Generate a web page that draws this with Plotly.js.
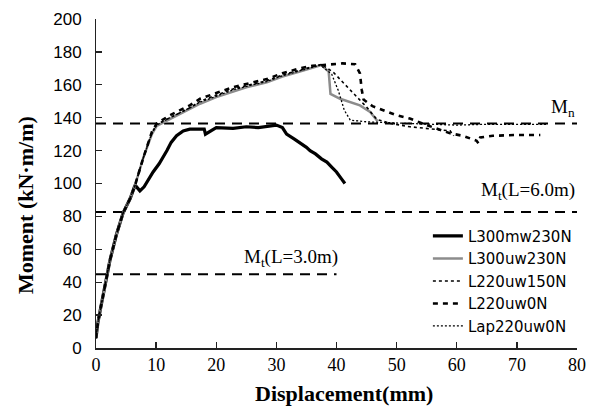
<!DOCTYPE html>
<html>
<head>
<meta charset="utf-8">
<script src="https://cdn.plot.ly/plotly-3.0.1.min.js"></script>
<style>html,body{margin:0;padding:0;background:#fff;}#chart{width:601px;height:410px;}</style>
</head>
<body>
<div id="chart"></div>
<script>
// ---- data ----
const seriesNames = ["L300mw230N", "L300uw230N", "L220uw150N", "L220uw0N", "Lap220uw0N"];

const x_L300mw230N = [0, 0.3, 0.7, 1.5, 2.3, 3.4, 4.5, 5.7, 6.5, 7.3, 8.0, 9.5, 10.5, 11.8, 12.5, 13.4, 14.5, 15.6, 17.3, 18.0, 18.2, 20, 22.8, 25, 27, 30, 31, 31.7, 33, 33.9, 35, 35.6, 36.5, 37.5, 38.4, 39.2, 40, 40.8, 41.4];
const y_L300mw230N = [6, 15, 23, 39, 53, 69, 82, 91, 99, 95.5, 98, 107, 112, 120, 125, 129, 132, 133, 133.2, 133, 130, 134, 133.5, 134.5, 134, 135.5, 134, 130, 127, 125, 122, 120, 118, 115, 113, 110, 107, 103, 100];

const x_L300uw230N = [0, 0.3, 0.7, 1.5, 2.3, 3.4, 4.5, 5.7, 6.5, 7.9, 9.3, 10.1, 12.3, 15.6, 17.3, 20, 22.8, 25, 28.4, 31, 33.9, 36, 37.5, 38.7, 39.0, 40.6, 43.9, 45.6, 46.4, 46.8];
const y_L300uw230N = [6, 15, 23, 39, 53, 69, 82, 91, 99, 116, 130, 135, 139, 145, 148.5, 152.5, 156, 158.5, 161.5, 165, 168, 170.5, 172, 168, 154.5, 151.5, 147.5, 143.5, 139.5, 138];

const x_L220uw150N = [0, 0.3, 0.7, 1.5, 2.3, 3.4, 4.5, 5.7, 6.5, 7.9, 9.3, 10.1, 12.3, 15.6, 17.3, 20, 22.8, 25, 28.4, 31, 33.9, 36, 37.5, 39.5, 42.3, 45, 46.7, 49, 52.2, 55, 58.9, 59.5];
const y_L220uw150N = [6, 15, 23, 39, 53, 69, 82, 91, 99, 116, 131, 136, 140, 146, 150, 153.5, 157.5, 159.5, 162.5, 166, 169, 171, 172.5, 167.5, 156.5, 146.5, 139, 136.5, 134.5, 133.5, 132, 129];

const x_L220uw0N = [0, 0.3, 0.7, 1.5, 2.3, 3.4, 4.5, 5.7, 6.5, 7.9, 9.3, 10.1, 12.3, 15.6, 17.3, 20, 22.8, 25, 28.4, 31, 33.9, 36, 37.5, 39, 41, 43.1, 43.9, 44.2, 44.5, 46, 47.8, 50, 52.2, 55, 58.9, 61, 63.3, 63.6, 63.9, 66, 70, 73.9];
const y_L220uw0N = [6, 15, 23, 39, 53, 69, 82, 91, 99, 116, 131.5, 136.5, 141.5, 147.5, 151.5, 155, 158.5, 160.5, 163.5, 167, 170, 171.5, 172, 172.5, 173, 172.5, 167, 157, 151, 147, 144.5, 141.5, 139.5, 135.5, 130.5, 129, 126, 124.5, 128, 129, 129.5, 129.5];

const x_Lap220uw0N = [0, 0.3, 0.7, 1.5, 2.3, 3.4, 4.5, 5.7, 6.5, 7.9, 9.3, 10.1, 12.3, 15.6, 17.3, 20, 22.8, 25, 28.4, 31, 33.9, 36, 37.3, 39.2, 40.3, 41.3, 42.3, 45, 47.8, 52, 56, 60, 65, 70, 75];
const y_Lap220uw0N = [6, 15, 23, 39, 53, 69, 82, 91, 99, 116, 130.5, 135.5, 140, 146, 149.5, 153, 157, 159, 162, 165.5, 168.5, 170.5, 172, 166.5, 156.5, 144.5, 138.5, 137.5, 137, 136.5, 136, 135.5, 136, 136, 136];

// reference levels
const refNames = ["Mn", "Mt(L=6.0m)", "Mt(L=3.0m)"];
const refLevels = [136.4, 82.7, 44.8];
const refXEnd = [80, 80, 40];

const xTicks = [0, 10, 20, 30, 40, 50, 60, 70, 80];
const yTicks = [0, 20, 40, 60, 80, 100, 120, 140, 160, 180, 200];

// ---- traces ----
const traces = [];
refLevels.forEach((lv, i) => {
  traces.push({
    x: [0, refXEnd[i]], y: [lv, lv], mode: 'lines', showlegend: false, hoverinfo: 'skip',
    line: {color: '#000', width: 2, dash: '10px,7px'}
  });
});

const seriesX = [x_L300mw230N, x_L300uw230N, x_L220uw150N, x_L220uw0N, x_Lap220uw0N];
const seriesY = [y_L300mw230N, y_L300uw230N, y_L220uw150N, y_L220uw0N, y_Lap220uw0N];
const seriesLine = [
  {color: '#000', width: 3.2, dash: 'solid'},
  {color: '#8c8c8c', width: 2.5, dash: 'solid'},
  {color: '#000', width: 1.6, dash: '3px,3px'},
  {color: '#000', width: 2.6, dash: '5px,5px'},
  {color: '#000', width: 1.3, dash: '2px,2px'}
];
seriesNames.forEach((nm, i) => {
  traces.push({x: seriesX[i], y: seriesY[i], name: nm, mode: 'lines', line: seriesLine[i]});
});

const serif = 'Liberation Serif, Times New Roman, serif';
const sans = 'DejaVu Sans, Liberation Sans, Arial, sans-serif';
const pad = '\u00a0\u00a0';

const layout = {
  width: 601, height: 410,
  margin: {l: 96, r: 24, t: 19, b: 62},
  paper_bgcolor: '#fff', plot_bgcolor: '#fff',
  showlegend: true,
  legend: {
    x: 0.69, y: 0.39, xanchor: 'left', yanchor: 'top',
    bgcolor: 'rgba(0,0,0,0)', font: {family: sans, size: 15, color: '#000'},
    tracegroupgap: 0, itemwidth: 30
  },
  xaxis: {
    range: [0, 80], tickvals: xTicks, ticktext: xTicks.map(String),
    ticks: 'inside', ticklen: 6, tickwidth: 1.3, tickcolor: '#222',
    showline: true, linecolor: '#222', linewidth: 1.5, mirror: false,
    showgrid: false, zeroline: false,
    tickfont: {family: serif, size: 18, color: '#000'}
  },
  yaxis: {
    range: [0, 200], tickvals: yTicks, ticktext: yTicks.map(v => String(v) + pad),
    ticks: 'inside', ticklen: 6, tickwidth: 1.3, tickcolor: '#222',
    showline: true, linecolor: '#222', linewidth: 1.5,
    showgrid: false, zeroline: false,
    tickfont: {family: 'Liberation Sans, Arial, sans-serif', size: 17, color: '#000'}
  },
  annotations: [
    {xref: 'paper', yref: 'paper', x: (344 - 96) / 481, y: (348 - 393) / 329, text: '<b>Displacement(mm)</b>',
     showarrow: false, xanchor: 'center', yanchor: 'middle', font: {family: serif, size: 22, color: '#000'}},
    {xref: 'paper', yref: 'paper', x: (25 - 96) / 481, y: (348 - 205) / 329, text: '<b>Moment (kN·m/m)</b>', textangle: -90,
     showarrow: false, xanchor: 'center', yanchor: 'middle', font: {family: serif, size: 22, color: '#000'}},
    {x: 80, y: 146, text: 'M<sub>n</sub>', showarrow: false, xanchor: 'right', yanchor: 'middle',
     font: {family: serif, size: 19, color: '#000'}},
    {x: 80, y: 95.5, text: 'M<sub>t</sub>(L=6.0m)', showarrow: false, xanchor: 'right', yanchor: 'middle',
     font: {family: serif, size: 19, color: '#000'}},
    {x: 24.2, y: 55, text: 'M<sub>t</sub>(L=3.0m)', showarrow: false, xanchor: 'left', yanchor: 'middle',
     font: {family: serif, size: 19, color: '#000'}}
  ]
};

Plotly.newPlot('chart', traces, layout, {staticPlot: true, displayModeBar: false});
</script>
</body>
</html>
